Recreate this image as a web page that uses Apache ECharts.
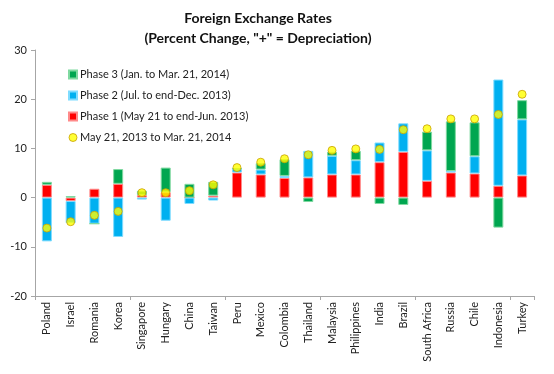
<!DOCTYPE html>
<html>
<head>
<meta charset="utf-8">
<script src="https://cdn.jsdelivr.net/npm/echarts@6/dist/echarts.min.js"></script>
<style>html,body{margin:0;padding:0;background:#fff;}#c{width:554px;height:374px;}</style>
</head>
<body>
<div id="c"></div>
<script>
const categories = ['Poland','Israel','Romania','Korea','Singapore','Hungary','China','Taiwan','Peru','Mexico','Colombia','Thailand','Malaysia','Philippines','India','Brazil','South Africa','Russia','Chile','Indonesia','Turkey'];
const phase1 = [2.6,-0.7,1.8,2.8,0.5,1.1,0,0.4,5.1,4.7,4.0,4.1,4.7,4.7,7.2,9.3,3.4,5.1,4.9,2.4,4.5];
const phase2 = [-8.9,-4.5,-5.3,-8.0,-0.4,-4.7,-1.3,-0.6,0.8,1.0,0.4,5.4,3.8,2.9,4.0,5.8,6.2,0.3,3.5,21.6,11.4];
const phase3 = [0.6,0.3,0,3.0,0.9,5.0,2.8,2.8,0,1.3,3.4,-0.9,0.8,1.9,-1.3,-1.5,3.8,10.1,6.9,-6.1,3.9];
const total = [-6.2,-4.9,-3.6,-2.8,1.0,1.0,1.4,2.6,6.1,7.2,7.9,8.7,9.6,9.9,9.8,13.8,14.0,16.0,16.0,16.9,21.0];
const yTicks = [-20,-10,0,10,20,30];
</script>
<script>
const FONT = 'Lato';
const chart = echarts.init(document.getElementById('c'));
function bar(name, data, color, border) {
  return {
    name: name, type: 'bar', stack: 'total', data: data, barWidth: 10,
    itemStyle: {color: color, borderColor: border, borderWidth: 1},
    emphasis: {disabled: true}
  };
}
chart.setOption({
  animation: false,
  textStyle: {fontFamily: FONT},
  title: {
    text: 'Foreign Exchange Rates\n(Percent Change, "+" = Depreciation)',
    left: 253, textAlign: 'center', top: 3,
    textStyle: {fontFamily: FONT, fontWeight: 'bold', fontSize: 14, lineHeight: 20, color: '#111'}
  },
  legend: {
    orient: 'vertical', left: 63, top: 64, itemWidth: 8, itemHeight: 8, itemGap: 10,
    data: [
      {name: 'Phase 3 (Jan. to Mar. 21, 2014)', icon: 'rect'},
      {name: 'Phase 2 (Jul. to end-Dec. 2013)', icon: 'rect'},
      {name: 'Phase 1 (May 21 to end-Jun. 2013)', icon: 'rect'},
      {name: 'May 21, 2013 to Mar. 21, 2014', icon: 'circle', itemStyle: {borderWidth: 1}}
    ],
    textStyle: {fontFamily: FONT, fontSize: 11, color: '#222', padding: [0,0,0,-2]},
    selectedMode: false
  },
  grid: {left: 35, right: 20, top: 50, bottom: 78},
  xAxis: [
    {
      type: 'category', data: categories, position: 'bottom',
      axisLine: {show: false}, axisTick: {show: false},
      axisLabel: {rotate: 90, fontSize: 11, color: '#222', fontFamily: FONT, margin: 6, interval: 0}
    },
    {
      type: 'category', data: categories, position: 'bottom',
      axisLine: {onZero: true, lineStyle: {color: '#a6a6a6', width: 1}},
      axisTick: {show: true, length: 4, lineStyle: {color: '#a6a6a6'}},
      axisLabel: {show: false}
    }
  ],
  yAxis: {
    type: 'value', min: -20, max: 30, interval: 10,
    axisLine: {show: true, lineStyle: {color: '#a6a6a6'}},
    axisTick: {show: true, length: 4, lineStyle: {color: '#a6a6a6'}},
    splitLine: {show: false},
    axisLabel: {fontSize: 11, color: '#222', fontFamily: FONT, margin: 8,
      formatter: v => yTicks.includes(v) ? String(v) : ''}
  },
  series: [
    bar('Phase 1 (May 21 to end-Jun. 2013)', phase1, '#ff0000', '#ff8a8a'),
    bar('Phase 2 (Jul. to end-Dec. 2013)', phase2, '#00b0f0', '#7fdcff'),
    bar('Phase 3 (Jan. to Mar. 21, 2014)', phase3, '#00a650', '#7fd9a0'),
    {
      name: 'May 21, 2013 to Mar. 21, 2014', type: 'scatter', data: total,
      symbol: 'circle', symbolSize: 8, z: 5,
      itemStyle: {color: '#ffff00', borderColor: '#c8a000', borderWidth: 1},
      emphasis: {disabled: true}
    }
  ]
});
</script>
</body>
</html>
